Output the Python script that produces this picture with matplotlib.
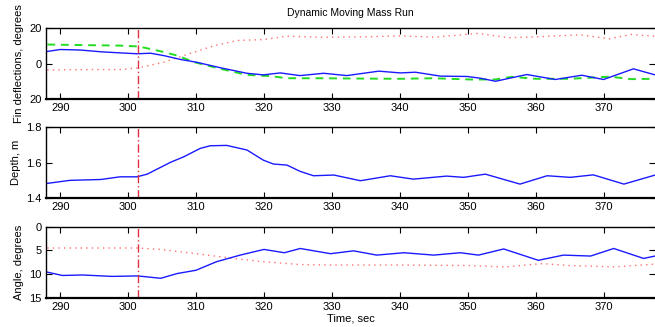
import matplotlib
matplotlib.use("Agg")
import matplotlib.pyplot as plt
from matplotlib.ticker import FixedLocator, FixedFormatter

plt.rcParams['font.family'] = ['Liberation Sans', 'DejaVu Sans']
plt.rcParams['font.size'] = 8

# event marker
t_event = 301.4

# fin deflections, degrees
fin_t = [288.1, 290, 293, 296, 298.8, 301.3, 303.3, 305.2, 307.7, 310.1, 313.6, 317.5,
         319.9, 322.4, 325.3, 328.8, 332.2, 336.9, 340.1, 342.3, 346, 349.9, 351.9,
         354.1, 358.7, 362.9, 366.8, 370, 374.4, 377.6]
fin_actual = [6.8, 7.9, 7.6, 6.6, 6.0, 5.5, 5.8, 4.5, 2.3, 0.7, -2.4, -5.5,
              -6.4, -5.3, -6.8, -5.5, -6.8, -4.3, -5.3, -4.9, -7.1, -7.3, -8.3,
              -10.0, -6.2, -9.0, -6.6, -9.0, -3.0, -6.4]
cmd_t = [288.1, 295, 298.8, 301.6, 304.9, 307.2, 309.8, 313.6, 317.5, 321, 323.4, 328.3,
         335, 340, 345, 350.4, 354, 356.5, 360, 365, 371, 374, 377.6]
fin_cmd = [10.7, 10.3, 10.1, 9.6, 6.8, 4.5, 0.7, -3.0, -6.4, -7.1, -8.3, -8.3,
           -8.5, -8.6, -8.3, -9.0, -9.0, -7.5, -8.6, -8.6, -7.4, -8.8, -8.6]
mm_t = [288.1, 295, 298.8, 301.6, 305.2, 309, 312.7, 316.1, 320, 323.4, 328.3, 335,
        340, 345, 351.6, 356, 361, 366.6, 370.9, 374, 377.6]
mass_pos = [-3.6, -3.4, -3.4, -2.4, 0.7, 5.5, 10.1, 13.0, 13.5, 15.4, 14.8, 15.0,
            15.6, 14.8, 17.0, 14.5, 15.2, 16.2, 13.9, 16.4, 15.4]

# depth, m
dep_t = [288.1, 291.4, 296, 298.8, 301.3, 302.8, 306.2, 308.2, 310.6, 312.1, 314.5,
         317.5, 319.9, 321.4, 323.4, 325.3, 327.3, 330.3, 334.2, 338.6, 342, 346.9,
         349.4, 352.6, 357.7, 361.7, 365.1, 368.5, 373, 377.6]
depth = [1.484, 1.501, 1.506, 1.521, 1.521, 1.536, 1.602, 1.634, 1.681, 1.696, 1.698,
         1.672, 1.615, 1.593, 1.587, 1.552, 1.527, 1.531, 1.499, 1.527, 1.508, 1.525,
         1.518, 1.536, 1.480, 1.527, 1.518, 1.532, 1.480, 1.531]

# angle, degrees
ang_t = [288.1, 290.3, 293.3, 297.6, 301.4, 304.8, 307.2, 310, 313, 316.5, 320, 323,
         325.35, 329.8, 333.2, 336.6, 340.6, 345, 348.9, 351.6, 355.3, 360.4, 364.1,
         368.1, 371.5, 375.9, 377.6]
pitch = [9.6, 10.3, 10.2, 10.5, 10.4, 10.9, 9.9, 9.2, 7.4, 6.0, 4.8, 5.5,
         4.6, 5.7, 5.1, 6.0, 5.5, 6.0, 5.5, 6.0, 4.7, 7.1, 6.0,
         6.2, 4.6, 6.7, 6.2]
ref_t = [288.1, 295, 301.4, 304.8, 310, 315.5, 320, 325.3, 330, 340, 350, 355.5, 361,
         365, 371.7, 377.6]
pitch_ref = [4.5, 4.5, 4.5, 4.8, 5.7, 6.7, 7.4, 8.0, 8.1, 8.1, 8.2, 8.5, 7.8, 8.2, 8.5, 7.9]

xticks = [290, 300, 310, 320, 330, 340, 350, 360, 370]

fig = plt.figure(figsize=(6.55, 3.27), dpi=100)
rects = [[0.0702, 0.6972, 0.93, 0.2171],
         [0.0702, 0.3936, 0.93, 0.2171],
         [0.0702, 0.0896, 0.93, 0.2171]]
axs = [fig.add_axes(r) for r in rects]

blue = '#1a1aff'
pink = '#ff7070'

ax = axs[0]
ax.plot(mm_t, mass_pos, color=pink, lw=1.0, ls=(0, (1, 3)))
ax.plot(cmd_t, fin_cmd, color='#22dd22', lw=1.4, ls=(0, (4, 3)))
ax.plot(fin_t, fin_actual, color=blue, lw=1.0)
ax.set_ylim(-20, 20)
ax.yaxis.set_major_locator(FixedLocator([-20, 0, 20]))
ax.yaxis.set_major_formatter(FixedFormatter(['20', '0', '20']))
ax.set_ylabel('Fin deflections, degrees')
ax.set_title('Dynamic Moving Mass Run', fontsize=7.5, pad=9)

ax = axs[1]
ax.plot(dep_t, depth, color=blue, lw=1.0)
ax.set_ylim(1.4, 1.8)
ax.set_yticks([1.4, 1.6, 1.8])
ax.set_ylabel('Depth, m')

ax = axs[2]
ax.plot(ref_t, pitch_ref, color=pink, lw=1.0, ls=(0, (1, 3)))
ax.plot(ang_t, pitch, color=blue, lw=1.0)
ax.set_ylim(15, 0)
ax.set_yticks([0, 5, 10, 15])
ax.set_ylabel('Angle, degrees')
ax.set_xlabel('Time, sec', labelpad=1)

for ax in axs:
    ax.axvline(t_event, color='#e03040', lw=1.0, ls=(0, (6, 2, 1, 2)))
    ax.set_xlim(287.9, 377.6)
    ax.set_xticks(xticks)
    ax.tick_params(direction='in', length=4, width=0.8, top=True, right=True,
                   labelsize=8, pad=3)
    ax.spines['right'].set_visible(False)
    ax.spines['bottom'].set_linewidth(1.6)
    ax.spines['top'].set_linewidth(1.0)
    ax.spines['left'].set_linewidth(1.0)

fig.savefig('out.png', dpi=100)
